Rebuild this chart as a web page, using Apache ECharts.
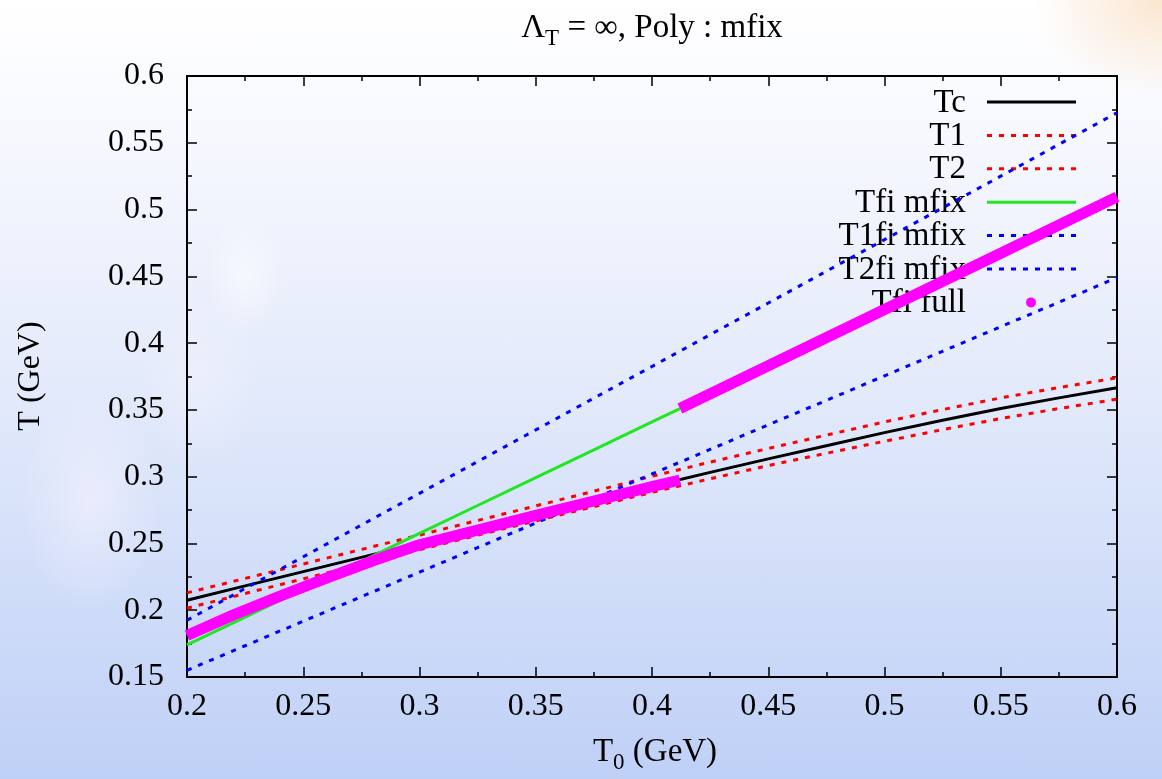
<!DOCTYPE html>
<html>
<head>
<meta charset="utf-8">
<script src="https://cdn.jsdelivr.net/npm/echarts@6/dist/echarts.min.js"></script>
<style>
  html, body { margin: 0; padding: 0; }
  #chart {
    width: 1162px; height: 779px;
    background:
      radial-gradient(ellipse 130px 95px at 1162px 0px, rgba(250, 222, 192, 0.75), rgba(252, 232, 212, 0) 100%),
      radial-gradient(ellipse 40px 60px at 245px 275px, rgba(255, 255, 255, 0.5), rgba(255, 255, 255, 0) 100%),
      radial-gradient(ellipse 70px 110px at 90px 500px, rgba(250, 245, 255, 0.5), rgba(255, 255, 255, 0) 100%),
      radial-gradient(ellipse 60px 90px at 200px 380px, rgba(250, 248, 255, 0.35), rgba(255, 255, 255, 0) 100%),
      linear-gradient(to bottom, #ffffff 0%, #f6f8fe 18%, #e6ecfb 45%, #d3dff9 72%, #bfd0f7 100%);
  }
</style>
</head>
<body>
<div id="chart"></div>
<script>
// Sample temperatures T0 (GeV)
const t0 = [0.2, 0.225, 0.25, 0.275, 0.3, 0.325, 0.35, 0.375, 0.4, 0.425, 0.45, 0.475, 0.5, 0.525, 0.55, 0.575, 0.6];
const tc = [0.2075, 0.2182, 0.2289, 0.2396, 0.2503, 0.2610, 0.2716, 0.2822, 0.2928, 0.3032, 0.3133, 0.3232, 0.3330, 0.3422, 0.3510, 0.3590, 0.3665];
const t1 = [0.2130, 0.2238, 0.2346, 0.2455, 0.2563, 0.2672, 0.2781, 0.2891, 0.3003, 0.3109, 0.3211, 0.3311, 0.3410, 0.3502, 0.3590, 0.3667, 0.3740];
const t2 = [0.2015, 0.2125, 0.2235, 0.2343, 0.2453, 0.2562, 0.2669, 0.2776, 0.2883, 0.2984, 0.3083, 0.3175, 0.3265, 0.3352, 0.3435, 0.3510, 0.3580];
const t1fiMfix = [0.1925, 0.2163, 0.2400, 0.2638, 0.2875, 0.3113, 0.3350, 0.3588, 0.3825, 0.4063, 0.4300, 0.4538, 0.4775, 0.5013, 0.5250, 0.5488, 0.5725];
const t2fiMfix = [0.1550, 0.1734, 0.1918, 0.2101, 0.2285, 0.2469, 0.2653, 0.2836, 0.3020, 0.3204, 0.3388, 0.3571, 0.3755, 0.3939, 0.4123, 0.4306, 0.4490];

// Tfi with fixed mass (below the switch point)
const t0Mfix = [0.2, 0.225, 0.25, 0.275, 0.3, 0.325, 0.35, 0.375, 0.4, 0.412];
const tfiMfix = [0.1740, 0.1949, 0.2158, 0.2366, 0.2575, 0.2784, 0.2993, 0.3201, 0.3410, 0.3510];

// Tfi full: two branches
const t0FullLow = [0.2, 0.22, 0.24, 0.26, 0.28, 0.3, 0.325, 0.35, 0.375, 0.4, 0.412];
const tfiFullLow = [0.1810, 0.1965, 0.2105, 0.2240, 0.2370, 0.2490, 0.2600, 0.2710, 0.2818, 0.2925, 0.2975];
const t0FullHigh = [0.412, 0.45, 0.5, 0.55, 0.6];
const tfiFullHigh = [0.3510, 0.3830, 0.4252, 0.4673, 0.5095];

const xTicks = { min: 0.2, max: 0.6, step: 0.05 };
const yTicks = { min: 0.15, max: 0.6, step: 0.05 };

const legendNames = ['Tc', 'T1', 'T2', 'Tfi mfix', 'T1fi mfix', 'T2fi mfix', 'Tfi full'];

const SERIF = '"Liberation Serif", "DejaVu Serif", serif';
const DOT = [5, 7];
const RED = '#ff0000', BLUE = '#0000ff', GREEN = '#22e622', MAGENTA = '#ff00ff';

const zip = (xs, ys) => xs.map((x, i) => [x, ys[i]]);

function lineSeries(name, xs, ys, color, width, type) {
  return {
    name, type: 'line', data: zip(xs, ys),
    showSymbol: false, symbol: 'none', smooth: false, animation: false,
    xAxisIndex: 0, yAxisIndex: 0,
    lineStyle: { color, width, type: type || 'solid', cap: 'butt' },
    emphasis: { disabled: true }
  };
}

const series = [
  lineSeries('Tc', t0, tc, '#000000', 3),
  lineSeries('T1', t0, t1, RED, 3, DOT),
  lineSeries('T2', t0, t2, RED, 3, DOT),
  lineSeries('Tfi mfix', t0Mfix, tfiMfix, GREEN, 3),
  lineSeries('T1fi mfix', t0, t1fiMfix, BLUE, 3, DOT),
  lineSeries('T2fi mfix', t0, t2fiMfix, BLUE, 3, DOT),
  lineSeries('Tfi full', t0FullLow, tfiFullLow, MAGENTA, 11),
  lineSeries('Tfi full', t0FullHigh, tfiFullHigh, MAGENTA, 11)
];

// Key: label text on the left, line sample on the right
const legendStyles = [
  { color: '#000000', dash: null },
  { color: RED, dash: DOT },
  { color: RED, dash: DOT },
  { color: GREEN, dash: null },
  { color: BLUE, dash: DOT },
  { color: BLUE, dash: DOT },
  { color: MAGENTA, point: true }
];
const keyGraphics = [];
legendNames.forEach((name, i) => {
  const y = 102 + i * 33.4;
  keyGraphics.push({
    type: 'text', x: 966, y: y + 1, z: 0,
    style: { text: name, font: '33px ' + SERIF, fill: '#000', align: 'right', verticalAlign: 'middle' }
  });
  const st = legendStyles[i];
  if (st.point) {
    keyGraphics.push({ type: 'circle', shape: { cx: 1031, cy: y, r: 5 }, style: { fill: st.color }, z: 0 });
  } else {
    keyGraphics.push({
      type: 'line', shape: { x1: 987, y1: y, x2: 1076, y2: y }, z: 0,
      style: { stroke: st.color, lineWidth: 3, lineDash: st.dash }
    });
  }
});

const richBase = {
  a: { fontSize: 33, fontFamily: SERIF, color: '#000', lineHeight: 44 },
  s: { fontSize: 23, fontFamily: SERIF, color: '#000', lineHeight: 23, verticalAlign: 'bottom' }
};

const axisCommon = {
  type: 'value',
  axisLine: { show: true, onZero: false, lineStyle: { color: '#000', width: 2 } },
  axisTick: { show: true, inside: true, length: 10, lineStyle: { color: '#000', width: 1.5 } },
  minorTick: { show: true, splitNumber: 2, length: 5, lineStyle: { color: '#000', width: 1.5 } },
  splitLine: { show: false },
  minorSplitLine: { show: false }
};

const chart = echarts.init(document.getElementById('chart'), null, { renderer: 'canvas' });
chart.setOption({
  backgroundColor: 'transparent',
  animation: false,
  grid: { left: 187, right: 45, top: 76, bottom: 102, containLabel: false, outerBoundsMode: 'none' },
  xAxis: [
    Object.assign({}, axisCommon, {
      position: 'bottom', min: xTicks.min, max: xTicks.max, interval: xTicks.step,
      axisLabel: { show: true, margin: 14, fontSize: 32, fontFamily: SERIF, color: '#000',
                   showMinLabel: true, showMaxLabel: true }
    }),
    Object.assign({}, axisCommon, {
      position: 'top', min: xTicks.min, max: xTicks.max, interval: xTicks.step,
      axisLabel: { show: false }
    })
  ],
  yAxis: [
    Object.assign({}, axisCommon, {
      position: 'left', min: yTicks.min, max: yTicks.max, interval: yTicks.step,
      axisLabel: { show: true, margin: 23, fontSize: 32, fontFamily: SERIF, color: '#000',
                   showMinLabel: true, showMaxLabel: true }
    }),
    Object.assign({}, axisCommon, {
      position: 'right', min: yTicks.min, max: yTicks.max, interval: yTicks.step,
      axisLabel: { show: false }
    })
  ],
  graphic: [
    {
      type: 'text', x: 652, y: 28, z: 0,
      style: { text: '{a|Λ}{s|T}{a| = ∞, Poly : mfix}', rich: richBase, align: 'center', verticalAlign: 'middle' }
    },
    {
      type: 'text', x: 655, y: 752, z: 0,
      style: { text: '{a|T}{s|0}{a| (GeV)}', rich: richBase, align: 'center', verticalAlign: 'middle' }
    },
    {
      type: 'text', x: 31, y: 376, rotation: Math.PI / 2, z: 0,
      style: { text: 'T (GeV)', font: '32px ' + SERIF, fill: '#000', align: 'center', verticalAlign: 'middle' }
    }
  ].concat(keyGraphics),
  series: series
});
</script>
</body>
</html>
